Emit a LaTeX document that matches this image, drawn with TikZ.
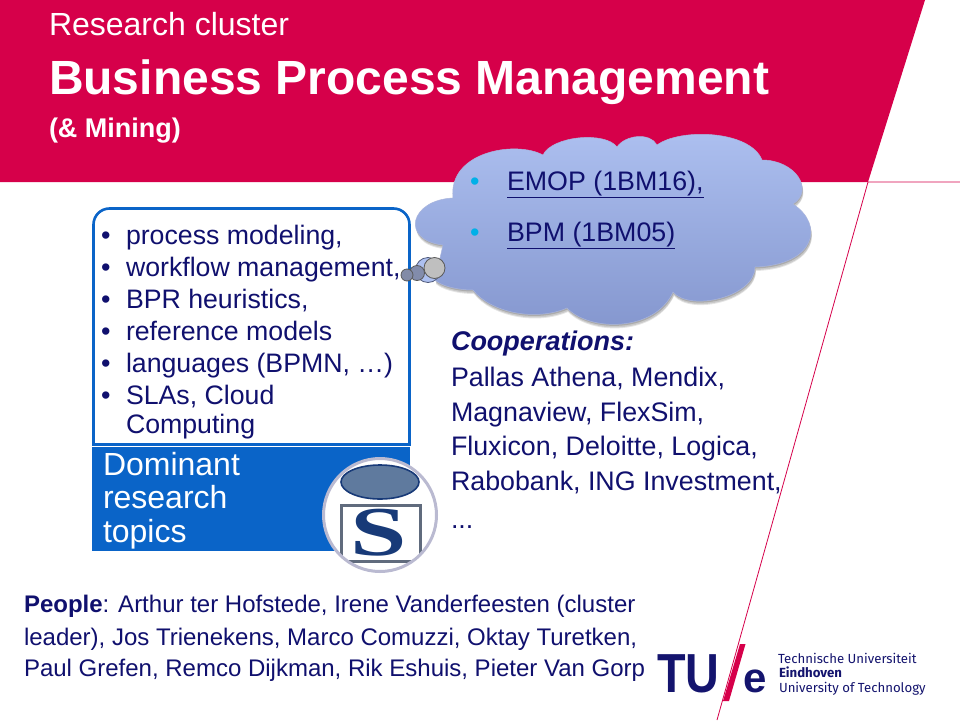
\documentclass[tikz,border=0pt]{standalone}
\usepackage{fontspec}
\setmainfont{Liberation Sans}
\newfontfamily\logofont{Fira Sans}
\newfontfamily\sfont{Liberation Serif}
\definecolor{tured}{HTML}{D6004A}
\definecolor{tunavy}{HTML}{10106E}
\definecolor{tublue}{HTML}{0A64C8}
\definecolor{cyanb}{HTML}{00B0E8}
\definecolor{cloudtop}{HTML}{ADC0F0}
\definecolor{cloudbot}{HTML}{8496CE}
\definecolor{logonavy}{HTML}{14146E}
\definecolor{snavy}{HTML}{183A78}
\definecolor{steel}{HTML}{5F7A9E}
\newcommand{\fs}[1]{\fontsize{#1}{#1}\selectfont}
\newcommand{\cloudpath}{
  (453,198) .. controls (448,152) and (515,140) .. (543,155)
  .. controls (552,136) and (605,131) .. (617,147)
  .. controls (625,135) and (650,132) .. (657,145)
  .. controls (680,128) and (750,130) .. (762,160)
  .. controls (795,160) and (815,190) .. (793,204)
  .. controls (825,225) and (815,265) .. (755,267)
  .. controls (755,297) and (690,312) .. (673,292)
  .. controls (655,332) and (590,332) .. (567,308)
  .. controls (535,322) and (490,312) .. (473,290)
  .. controls (455,290) and (440,285) .. (435,280)
  -- (443,245)
  .. controls (400,240) and (410,200) .. (453,198) -- cycle}
\tikzset{
  txt/.style={anchor=base west,inner sep=0pt,outer sep=0pt,text=#1},
  txt/.default=tunavy,
  cloudfill/.style={top color=cloudtop,bottom color=cloudbot,draw=#1,line width=.5pt},
  bubble/.style={circle,draw=#1,line width=.8pt,inner sep=0pt}
}
\begin{document}
\begin{tikzpicture}[x=1pt,y=-1pt]
\useasboundingbox (0,0) rectangle (960,720);
\fill[white] (0,0) rectangle (960,720);
% banner and rule lines
\fill[tured] (0,0) -- (925,0) -- (868,182) -- (0,182) -- cycle;
\coordinate (lineTop) at (868,182);
\coordinate (lineRight) at (960,182);
\coordinate (lineBot) at (717,720);
\draw[tured,line width=.8pt] (lineRight) -- (lineTop) -- (lineBot);
% titles
\node[txt=white] (t1) at (49,35) {\fs{32}Research cluster};
\node[txt=white] (t2) at (49,94) {\fs{48}\bfseries Business Process Management};
\node[txt=white] (t3) at (49,137) {\fs{27}\bfseries (\& Mining)};
% topics box: round top corners, square bottom corners
\draw[tublue,line width=2.6pt,rounded corners=16pt] (93.5,444.5) -- (93.5,208.5) -- (409.5,208.5) [sharp corners] -- (409.5,444.5) -- cycle;
\fill[tublue] (92,447) rectangle (410,551);
\foreach \y [count=\i] in {244,276,308,340,372,404}{
  \node[txt] (b\i) at (101,\y) {\fs{27}•};
}
\node[txt] (l1) at (126,244) {\fs{26.7}process modeling,};
\node[txt] (l2) at (126,276) {\fs{26.7}workflow management,};
\node[txt] (l3) at (126,308) {\fs{26.7}BPR heuristics,};
\node[txt] (l4) at (126,340) {\fs{26.7}reference models};
\node[txt] (l5) at (126,372) {\fs{26.7}languages (BPMN, …)};
\node[txt] (l6) at (126,404) {\fs{26.7}SLAs, Cloud};
\node[txt] (l7) at (126,433) {\fs{26.7}Computing};
\node[txt=white] (d1) at (103,475) {\fs{32}Dominant};
\node[txt=white] (d2) at (103,508) {\fs{32}research};
\node[txt=white] (d3) at (103,542) {\fs{32}topics};
% cloud
\path[fill=black,opacity=.10,xshift=1pt,yshift=-4pt] \cloudpath;
\path[fill=black,opacity=.12,xshift=1pt,yshift=-3pt] \cloudpath;
\path[fill=black,opacity=.15,xshift=.5pt,yshift=-1.5pt] \cloudpath;
\path[cloudfill=cloudbot!70!white] \cloudpath;
\node[bubble=cloudbot!60!black,fill=cloudtop,minimum size=25pt] (bb) at (428,270) {};
\node[bubble=gray!70!black,fill=gray!50,minimum size=21pt] (b3) at (434.5,268) {};
\node[bubble=gray!70!black,fill=gray!45!cloudbot,minimum size=15pt] (b2) at (417,273) {};
\node[bubble=gray!70!black,fill=gray!50!cloudbot,minimum size=12pt] (b1) at (407,275) {};
\node[txt=cyanb] (c1b) at (470,190) {\fs{27}•};
\node[txt=cyanb] (c2b) at (470,241) {\fs{27}•};
\node[txt] (c1) at (507,190) {\fs{26.8}\underline{EMOP (1BM16),}};
\node[txt] (c2) at (507,241) {\fs{26.8}\underline{BPM (1BM05)}};
% cooperations
\node[txt] (co0) at (451,350) {\fs{27}\bfseries\itshape Cooperations:};
\node[txt] (co1) at (451,386) {\fs{26.8}Pallas Athena, Mendix,};
\node[txt] (co2) at (451,421) {\fs{26.8}Magnaview, FlexSim,};
\node[txt] (co3) at (451,455) {\fs{26.8}Fluxicon, Deloitte, Logica,};
\node[txt] (co4) at (451,490) {\fs{26.8}Rabobank, ING Investment,};
\node[txt] (co5) at (451,528) {\fs{26.8}...};
% S logo in circle
\node[circle,fill=white,minimum size=113pt,inner sep=0pt] (sc) at (380,515) {};
\begin{scope}
\clip (380,515) circle (56pt);
\draw[gray!70!snavy,line width=3pt,fill=white] (341,505) rectangle (420,561);
\node[inner sep=0pt,text=snavy] (sl) at (379,533) {\sfont\bfseries\fs{70}\scalebox{1.45}[1]{S}};
\end{scope}
\draw[line width=1.6pt,draw=snavy,fill=steel] (380,482) ellipse [x radius=39pt,y radius=17pt];
\node[circle,draw=blue!20!gray!45,line width=3pt,minimum size=113pt,inner sep=0pt] (scb) at (380,515) {};
% people
\node[txt] (p1) at (24,612) {\fs{24}\textbf{People}: Arthur ter Hofstede, Irene Vanderfeesten (cluster};
\node[txt] (p2) at (24,645) {\fs{24}leader), Jos Trienekens, Marco Comuzzi, Oktay Turetken,};
\node[txt] (p3) at (24,676) {\fs{24}Paul Grefen, Remco Dijkman, Rik Eshuis, Pieter Van Gorp};
% TU/e logo
\node[txt=logonavy] (tu) at (657,692) {\fs{55}\bfseries\scalebox{.85}[1]{TU}};
\fill[tured] (740,644) -- (745.5,644) -- (729,701) -- (723,701) -- cycle;
\node[txt=logonavy] (tue) at (743,692) {\fs{42}\bfseries e};
\node[txt=logonavy] (lg1) at (778,663) {\logofont\fs{13.2}Technische Universiteit};
\node[txt=logonavy] (lg2) at (779,677) {\logofont\fs{13.2}\bfseries Eindhoven};
\node[txt=logonavy] (lg3) at (779,692) {\logofont\fs{13.2}University of Technology};
\end{tikzpicture}
\end{document}
